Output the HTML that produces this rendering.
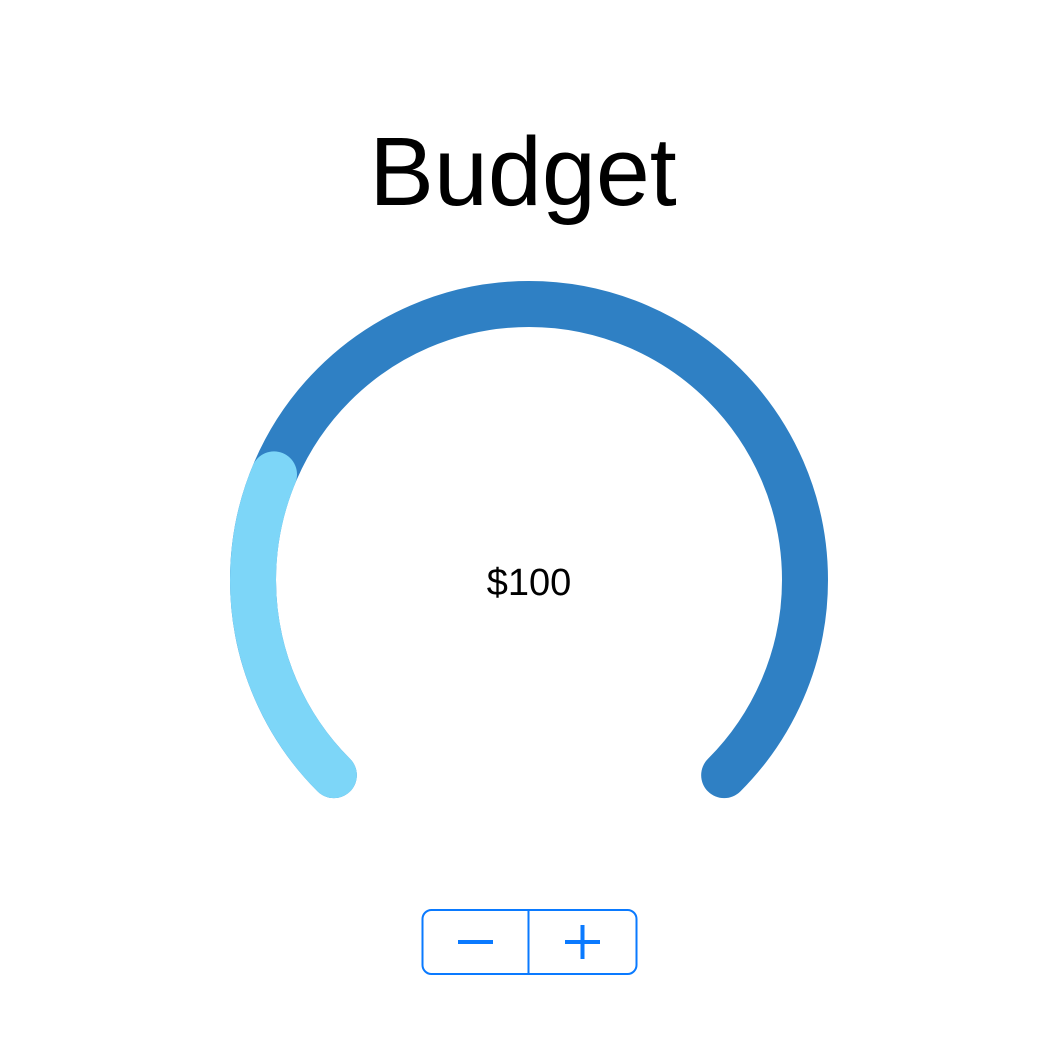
<!DOCTYPE html>
<html><head><meta charset="utf-8"><style>
html,body{margin:0;padding:0;background:#fff;width:1048px;height:1048px;overflow:hidden;font-family:"Liberation Sans",sans-serif}
</style></head><body>
<svg width="1048" height="1048" viewBox="0 0 1048 1048">
<text x="523" y="205" text-anchor="middle" font-size="97" font-family="Liberation Sans, sans-serif" fill="#000">Budget</text>
<path id="track" fill="none" stroke="#2f80c4" stroke-width="46" stroke-linecap="round"/>
<path id="fill" fill="none" stroke="#7dd6f8" stroke-width="46" stroke-linecap="round"/>
<text id="valtext" x="529" y="595" text-anchor="middle" font-size="38" fill="#000"></text>
<g>
<rect x="422.5" y="910" width="214" height="64" rx="9" fill="#fff" stroke="#0a7aff" stroke-width="2"/>
<line x1="528.5" y1="910" x2="528.5" y2="974" stroke="#0a7aff" stroke-width="2"/>
<g><rect x="423" y="911" width="105" height="62" fill="transparent"/><rect x="458" y="940" width="35" height="4" fill="#0a7aff"/></g>
<g><rect x="529" y="911" width="107" height="62" fill="transparent"/><rect x="565" y="940" width="35" height="4" fill="#0a7aff"/><rect x="580.5" y="925" width="4" height="34" fill="#0a7aff"/></g>
</g>
</svg>
<script>
const gaugeValue = [100];
const gaugeMax = [400];
const cx=529, cy=580, r=276, startDeg=225, sweep=270;
function pt(deg){const a=deg*Math.PI/180;return [cx+r*Math.cos(a), cy-r*Math.sin(a)];}
function arc(fromDeg,toDeg){
  const p0=pt(fromDeg), p1=pt(toDeg);
  const large=(fromDeg-toDeg)>180?1:0;
  return `M${p0[0]} ${p0[1]} A${r} ${r} 0 ${large} 1 ${p1[0]} ${p1[1]}`;
}
document.getElementById('track').setAttribute('d',arc(startDeg,startDeg-sweep));
const frac=gaugeValue[0]/gaugeMax[0];
document.getElementById('fill').setAttribute('d',arc(startDeg,startDeg-sweep*frac));
document.getElementById('valtext').textContent='$'+gaugeValue[0];
</script>
</body></html>
